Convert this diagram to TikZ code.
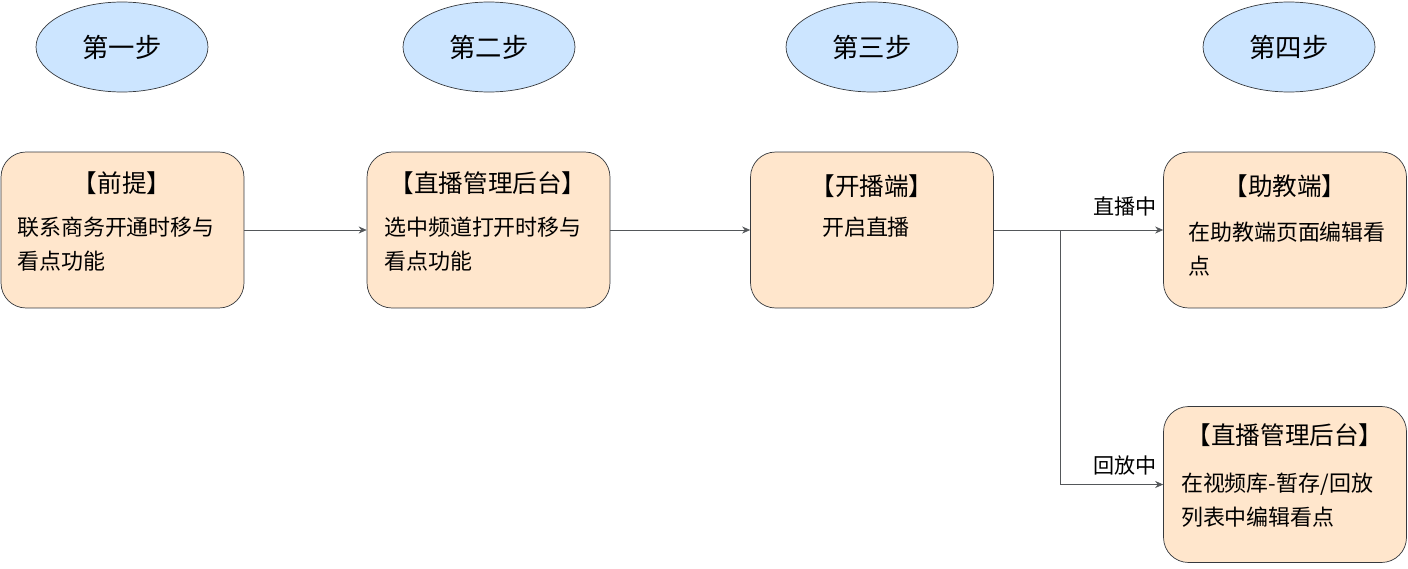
\documentclass[tikz,border=0pt]{standalone}
\usepackage{fontspec}
\setmainfont{Noto Sans CJK SC}
\usetikzlibrary{positioning,shapes.geometric,arrows.meta}
\definecolor{stepblue}{HTML}{CCE5FF}
\definecolor{boxorange}{HTML}{FFE6CC}
\definecolor{edgegray}{HTML}{36393D}
\tikzset{step node/.style={ellipse,fill=stepblue,draw=edgegray,minimum width=3.44cm,minimum height=1.8cm,font=\fontsize{15}{17}\selectfont},
  main box/.style={rectangle,rounded corners=0.5cm,fill=boxorange,draw=edgegray,minimum width=4.86cm,minimum height=3.12cm},
  title text/.style={font=\fontsize{14}{16}\selectfont,inner sep=0pt},
  body text/.style={font=\fontsize{12.5}{19.3}\selectfont,align=left,inner sep=0pt,anchor=north},
  flow/.style={draw=edgegray!85,-{Stealth[length=1.6mm,width=1.4mm]}},
  cond text/.style={font=\fontsize{12}{14}\selectfont,inner sep=0pt}}

\begin{document}
\begin{tikzpicture}[x=0.02cm,y=-0.02cm]
            \useasboundingbox (0,0) rectangle (1408,568);
            % steps
            \node[step node] (S1) at (122,47) {第一步};
            \node[step node] (S2) at (489,47) {第二步};
            \node[step node] (S3) at (872,47) {第三步};
            \node[step node] (S4) at (1289,47) {第四步};

            % boxes
            \node[main box] (B1) at (122.5,230) {};
            \node[main box] (B2) at (488.5,230) {};
            \node[main box] (B3) at (872,230) {};
            \node[main box] (B4) at (1285,230) {};
            \node[main box] (B5) at (1285,484.5) {};

            \node[title text] (T1) at (122,183) {【前提】};
            \node[title text] (T2) at (488,183) {【直播管理后台】};
            \node[title text] (T3) at (872,186) {【开播端】};
            \node[title text] (T4) at (1285,186) {【助教端】};
            \node[title text] (T5) at (1285,435) {【直播管理后台】};

            \node[body text] (D1) at (116,217) {联系商务开通时移与\\看点功能};
            \node[body text] (D2) at (483,217) {选中频道打开时移与\\看点功能};
            \node[body text] (D3) at (866,217) {开启直播};
            \node[body text] (D4) at (1287,222) {在助教端页面编辑看\\点};
            \node[body text] (D5) at (1277,473) {在视频库-暂存/回放\\列表中编辑看点};

            % connectors
            \coordinate (J) at (1060,230);
            \path[flow] (B1) -- (B2);
            \path[flow] (B2) -- (B3);
            \path[flow] (B3) -- (B4);
            \path[flow] (J) |- (B5.west);
            \node[cond text, anchor=east] (L1) at (1157,206) {直播中};
            \node[cond text, anchor=east] (L2) at (1157,465) {回放中};
        \end{tikzpicture}
\end{document}
